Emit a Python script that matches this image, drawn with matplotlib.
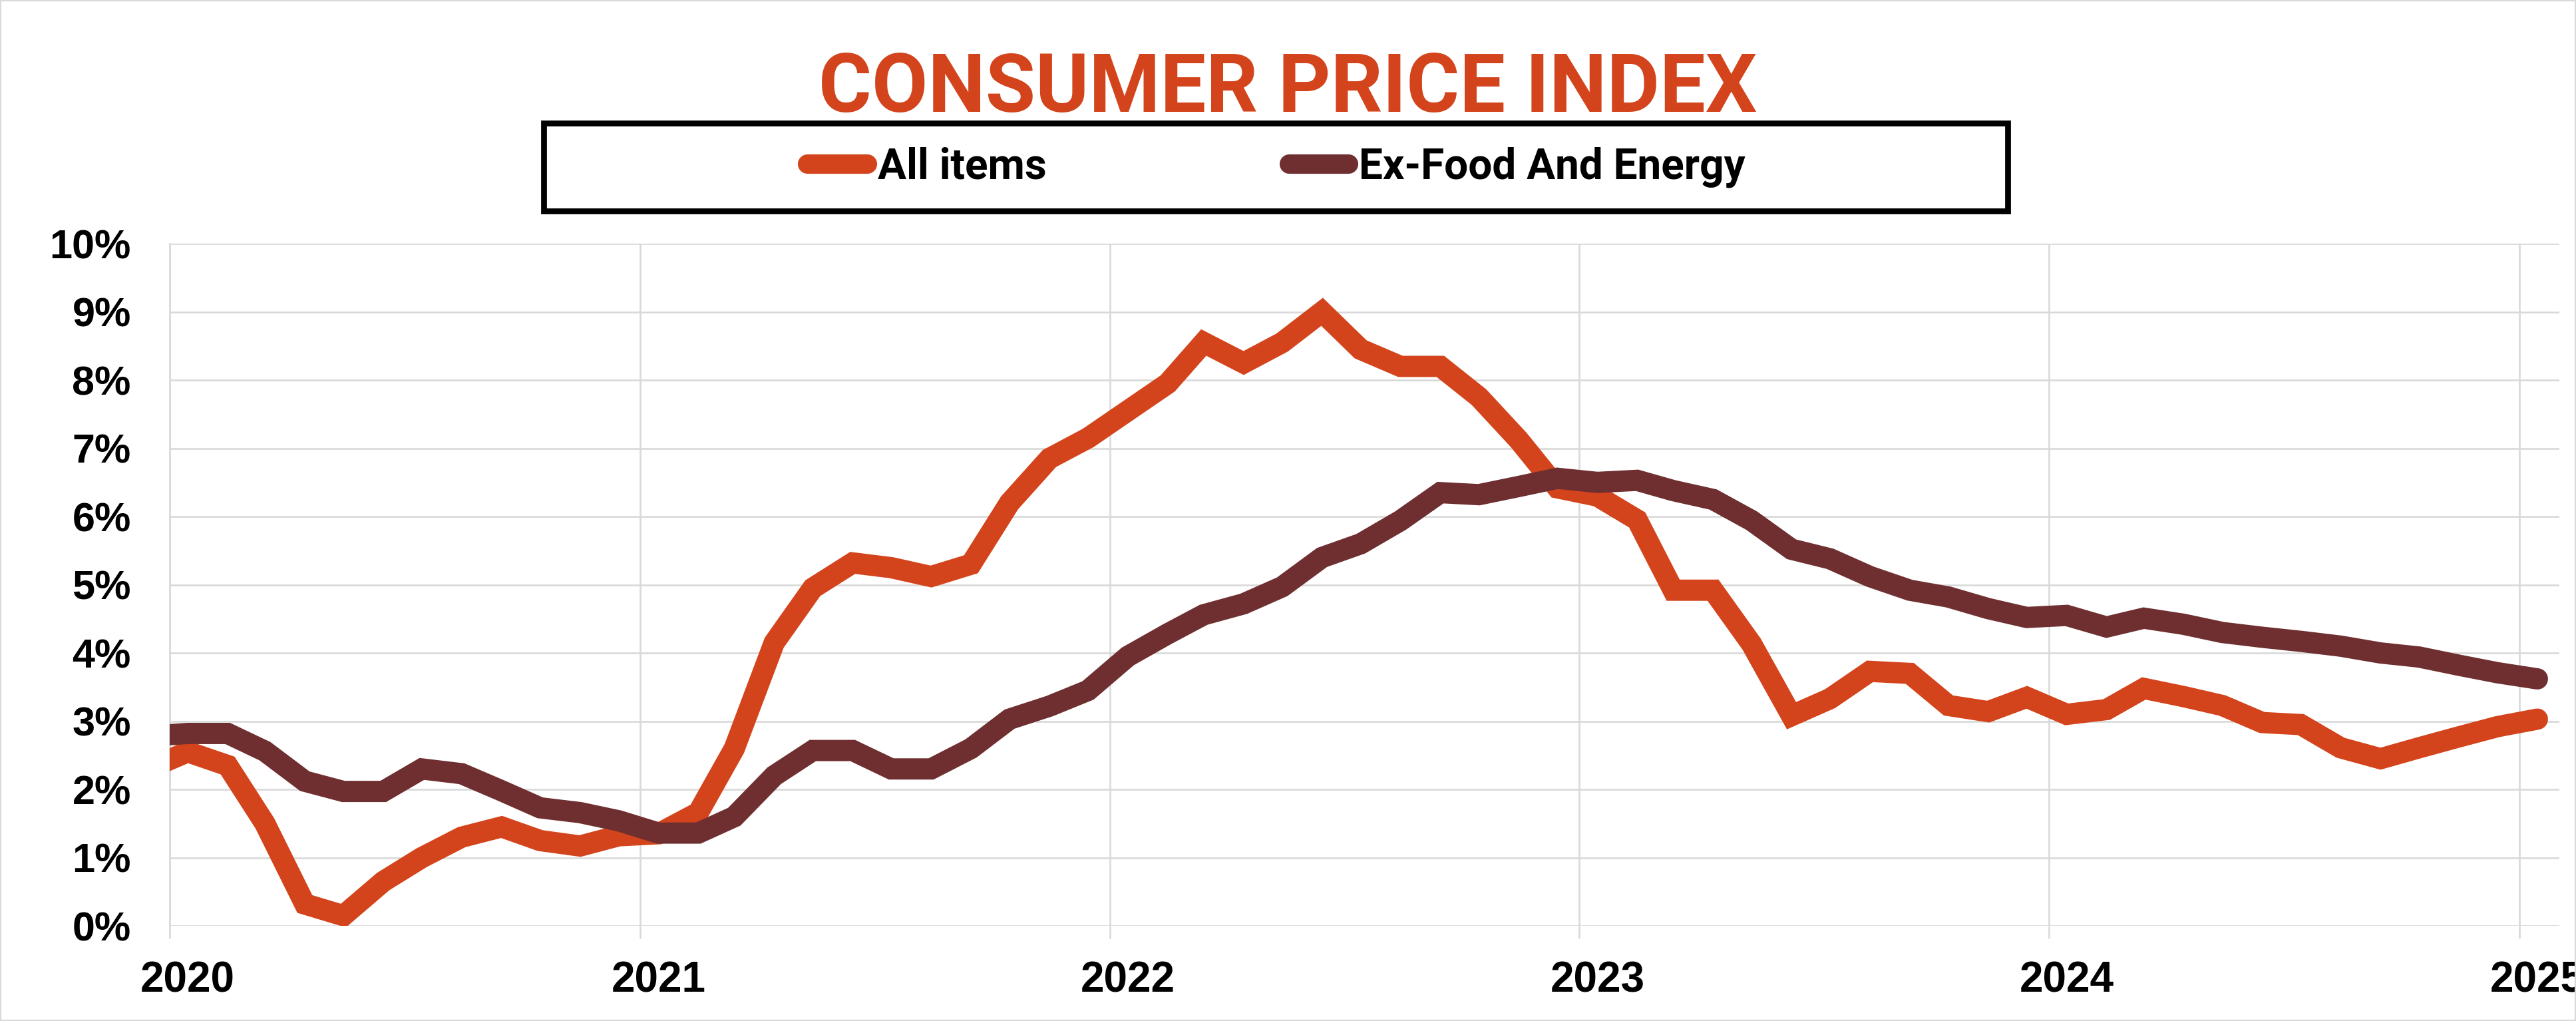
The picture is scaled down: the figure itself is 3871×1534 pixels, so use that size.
import matplotlib
matplotlib.use('Agg')
import matplotlib.pyplot as plt
import matplotlib.dates as mdates
from matplotlib import font_manager
from matplotlib.patches import Rectangle
from matplotlib.ticker import FuncFormatter, MultipleLocator
import numpy as np
import pandas as pd

# monthly y/y change, Dec 2019 .. Jan 2025 (first point sits left of the axis and gets clipped)
months = pd.date_range('2019-12-01', '2025-01-01', freq='MS') + pd.Timedelta(days=14)

all_items = [2.3,
             2.55, 2.35, 1.5, 0.32, 0.15, 0.65, 1.0, 1.3, 1.45, 1.25, 1.17, 1.32,
             1.35, 1.66, 2.6, 4.15, 4.95, 5.32, 5.25, 5.12, 5.3, 6.2, 6.85, 7.15,
             7.55, 7.95, 8.55, 8.25, 8.55, 9.0, 8.45, 8.2, 8.2, 7.75, 7.12, 6.42,
             6.3, 5.95, 4.92, 4.92, 4.13, 3.08, 3.33, 3.73, 3.7, 3.23, 3.14, 3.35,
             3.1, 3.17, 3.48, 3.36, 3.23, 2.98, 2.95, 2.61, 2.45, 2.61, 2.77, 2.92,
             3.03]

ex_food_energy = [2.78,
                  2.82, 2.82, 2.56, 2.12, 1.97, 1.97, 2.3, 2.23, 1.98, 1.73, 1.66, 1.54,
                  1.36, 1.36, 1.6, 2.2, 2.57, 2.57, 2.3, 2.3, 2.6, 3.03, 3.22, 3.45,
                  3.95, 4.28, 4.56, 4.72, 4.97, 5.4, 5.6, 5.94, 6.35, 6.32, 6.44, 6.56,
                  6.5, 6.53, 6.38, 6.25, 5.94, 5.52, 5.38, 5.12, 4.92, 4.82, 4.65, 4.52,
                  4.55, 4.38, 4.51, 4.42, 4.3, 4.23, 4.17, 4.1, 4.0, 3.94, 3.82, 3.71,
                  3.62]

series_names = ['All items', 'Ex-Food And Energy']
colors = ['#D4441C', '#6F2F30']


def pick(*names):
    for n in names:
        try:
            font_manager.findfont(n, fallback_to_default=False)
            return n
        except ValueError:
            pass
    return 'DejaVu Sans'


narrow = pick('Liberation Sans Narrow', 'Roboto', 'DejaVu Sans')
tickfont = pick('Liberation Sans', 'DejaVu Sans')

fig = plt.figure(figsize=(38.71, 15.34), dpi=100)
ax = fig.add_axes([0.0659, 0.0932, 0.9276, 0.6682])

lines = []
for vals, name, col in zip([all_items, ex_food_energy], series_names, colors):
    ln, = ax.plot(months, vals, color=col, lw=23, label=name,
                  solid_capstyle='round', solid_joinstyle='miter', zorder=3)
    lines.append(ln)
# core line drawn above
lines[1].set_zorder(4)

ax.set_xlim(pd.Timestamp('2020-01-01'), pd.Timestamp('2025-02-01'))
ax.set_ylim(0, 10)

ax.yaxis.set_major_locator(MultipleLocator(1))
ax.yaxis.set_major_formatter(FuncFormatter(lambda v, p: '%d%%' % v))
ax.xaxis.set_major_locator(mdates.YearLocator(1, month=1, day=15))
ax.xaxis.set_major_formatter(mdates.DateFormatter('%Y'))
ax.xaxis.set_minor_locator(mdates.YearLocator(1, month=1, day=1))

grid_c = '#D9D9D9'
ax.grid(axis='y', which='major', color=grid_c, lw=1.9)
ax.grid(axis='x', which='minor', color=grid_c, lw=1.9)
ax.grid(axis='x', which='major', visible=False)
ax.set_axisbelow(True)

for s in ['top', 'right', 'bottom']:
    ax.spines[s].set_visible(False)
ax.spines['left'].set_color(grid_c)
ax.spines['left'].set_linewidth(1.9)

ax.tick_params(axis='y', length=0, pad=42, labelsize=44)
ax.tick_params(axis='x', which='major', length=0, pad=38, labelsize=46)
ax.tick_params(axis='x', which='minor', length=14, width=1.9, color=grid_c)
for lab in ax.get_xticklabels() + ax.get_yticklabels():
    lab.set_fontfamily(tickfont)
    lab.set_fontweight('bold')
    lab.set_clip_on(False)

fig.text(0.5, 0.8905, 'CONSUMER PRICE INDEX', ha='center', va='baseline',
         color=colors[0], fontsize=88, fontweight='bold', family=narrow)

# legend box
fig.add_artist(Rectangle((0.2111, 0.7934), 0.5683, 0.0860, transform=fig.transFigure,
                         fill=False, edgecolor='black', lw=6.3))
leg = fig.legend(handles=lines, labels=series_names, loc='center',
                 bbox_to_anchor=(0.4955, 0.8364), ncol=2, frameon=False,
                 handlelength=1.4, handletextpad=0.25, columnspacing=5.7,
                 prop={'family': narrow, 'weight': 'bold', 'size': 46})
for h in leg.legend_handles:
    h.set_linewidth(21)
    h.set_solid_capstyle('round')

fig.add_artist(Rectangle((0, 0), 1, 1, transform=fig.transFigure,
                         fill=False, edgecolor=grid_c, lw=3))

fig.savefig('out.png', dpi=100)
